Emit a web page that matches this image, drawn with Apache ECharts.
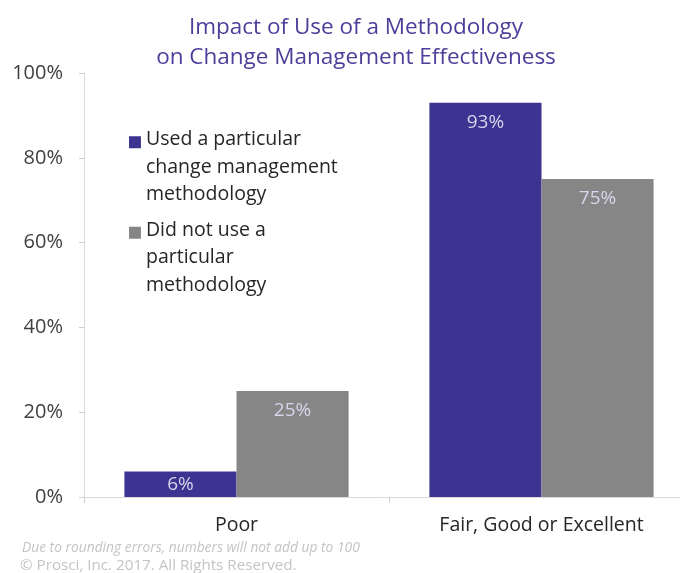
<!DOCTYPE html>
<html>
<head>
<meta charset="utf-8">
<script src="https://cdn.jsdelivr.net/npm/echarts@6/dist/echarts.min.js"></script>
<style>html,body{margin:0;padding:0;background:#fff}#c{width:680px;height:573px}</style>
</head>
<body>
<div id="c"></div>
<script>
const titleText = "Impact of Use of a Methodology\non Change Management Effectiveness";
const categories = ["Poor", "Fair, Good or Excellent"];
const seriesNames = ["Used a particular change management methodology", "Did not use a particular methodology"];
const legendLines = {
  "Used a particular change management methodology": "Used a particular\nchange management\nmethodology",
  "Did not use a particular methodology": "Did not use a\nparticular\nmethodology"
};
const usedValues = [6, 93];
const notUsedValues = [25, 75];
const yTicks = [0, 20, 40, 60, 80, 100];
const footnote1 = "Due to rounding errors, numbers will not add up to 100";
const footnote2 = "\u00a9 Prosci, Inc. 2017. All Rights Reserved.";

const FONT = "Open Sans";
const chart = echarts.init(document.getElementById('c'), null, {renderer: 'canvas'});

function mk(vals) {
  return vals.map(v => v < 10
    ? {value: v, label: {position: 'inside'}}
    : {value: v});
}
const labelStyle = {
  show: true, position: 'insideTop', distance: 10,
  formatter: p => p.value + '%',
  color: '#d6d6ec', fontFamily: FONT, fontSize: 19
};
const iconPath = 'path://M0,0 L10,0 L10,10 L0,10 Z M0,52 L0.001,52 L0,52.001 Z';

chart.setOption({
  animation: false,
  title: {
    text: titleText, left: 351, top: 8, textAlign: 'center',
    textStyle: {fontFamily: FONT, fontWeight: 'normal', fontSize: 22.5, color: '#4b3f9a', lineHeight: 30}
  },
  legend: {
    orient: 'vertical', left: 124, top: 121,
    itemWidth: 12, itemHeight: 62, itemGap: 8,
    icon: iconPath,
    data: seriesNames,
    formatter: n => legendLines[n],
    textStyle: {fontFamily: FONT, fontSize: 19.5, color: '#262626', lineHeight: 27.5}
  },
  grid: {left: 84, top: 73, width: 610, height: 424, outerBoundsMode: 'none', containLabel: false},
  xAxis: {
    type: 'category', data: categories,
    axisLine: {lineStyle: {color: '#d9d9d9', width: 1}},
    axisTick: {show: true, length: 6, lineStyle: {color: '#d0d0d0'}},
    axisLabel: {fontFamily: FONT, fontSize: 19.5, color: '#262626', margin: 18}
  },
  yAxis: {
    type: 'value', min: 0, max: 100, interval: 20,
    axisLine: {show: true, lineStyle: {color: '#d9d9d9', width: 1}},
    axisTick: {show: true, length: 5, lineStyle: {color: '#d0d0d0'}},
    splitLine: {show: false},
    axisLabel: {fontFamily: FONT, fontSize: 20, color: '#404040', margin: 21,
      formatter: v => yTicks.includes(v) ? v + '%' : ''}
  },
  series: [
    {name: seriesNames[0], type: 'bar', data: mk(usedValues), barGap: '0%', barCategoryGap: '26.5%',
     itemStyle: {color: '#3d3391'}, label: labelStyle},
    {name: seriesNames[1], type: 'bar', data: mk(notUsedValues), barGap: '0%', barCategoryGap: '26.5%',
     itemStyle: {color: '#868686'}, label: labelStyle}
  ],
  graphic: [
    {type: 'text', left: 22, top: 541, style: {text: footnote1, fontFamily: FONT, fontStyle: 'italic', fontSize: 13.8, fill: '#c4c4c4'}},
    {type: 'text', left: 20, top: 558, style: {text: footnote2, fontFamily: FONT, fontSize: 15.2, fill: '#c4c4c4'}}
  ]
});
</script>
</body>
</html>
